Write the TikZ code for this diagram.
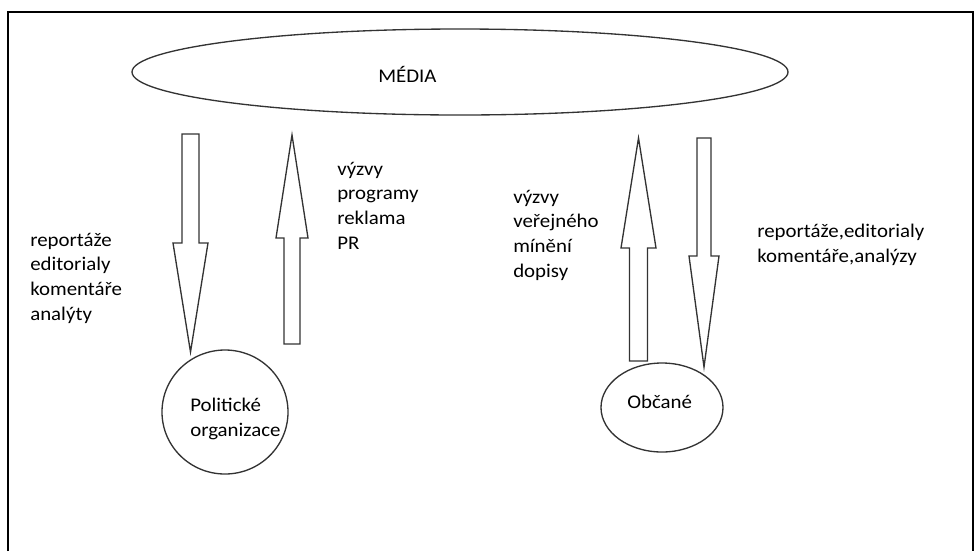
\documentclass[tikz,border=0pt]{standalone}
\usepackage{fontspec}
\setmainfont{Carlito}[FakeStretch=1.08]
\usetikzlibrary{shapes.geometric}

% block arrow: x, tail y, neck y, tip y, shaft half width, head half width
\newcommand{\blockarr}[6]{%
  \draw[blockline] (#1-#5,#2) -- (#1+#5,#2) -- (#1+#5,#3) -- (#1+#6,#3)
    -- (#1,#4) -- (#1-#6,#3) -- (#1-#5,#3) -- cycle;}

\begin{document}
\begin{tikzpicture}[x=0.75pt, y=-0.75pt,
    every node/.style={font=\fontsize{14.5}{18.5}\selectfont},
    lbl/.style={anchor=base west, align=left, inner sep=0pt},
    oval/.style={ellipse, draw=black!80, line width=1pt, inner sep=0pt},
    blockline/.style={draw=black!80, line width=1pt}]
      \useasboundingbox (0,0) rectangle (977,551);
      \draw[line width=1.5pt] (7.5,551) -- (7.5,12) -- (973,12) -- (973,551);

      \node[oval, minimum width=492pt, minimum height=64.5pt] (media) at (460,72) {};
      \node[lbl] (medtxt) at (378,82) {MÉDIA};

      \node[oval, minimum width=94.5pt, minimum height=93pt] (polit) at (225,412) {};
      \node[lbl] (polittxt) at (190,436) {Politické\\organizace};

      \node[oval, minimum width=91.5pt, minimum height=66.75pt] (obcane) at (662,407.5) {};
      \node[lbl] (obctxt) at (627,408) {Občané};

      \blockarr{190.5}{134}{243}{352}{8.5}{17.5}
      \blockarr{292}{344}{238}{135}{8}{16}
      \blockarr{638.5}{361}{248}{138}{9}{17.5}
      \blockarr{704}{138}{256}{367}{7}{15}

      \node[lbl] (reptxt) at (30,320) {reportáže\\editorialy\\komentáře\\analýty};
      \node[lbl] (vyzvtxt) at (337,249) {výzvy\\programy\\reklama\\PR};
      \node[lbl] (minenitxt) at (513,277) {výzvy\\veřejného\\mínění\\dopisy};
      \node[lbl] (analtxt) at (757,262) {reportáže,editorialy\\komentáře,analýzy};
    \end{tikzpicture}
\end{document}
